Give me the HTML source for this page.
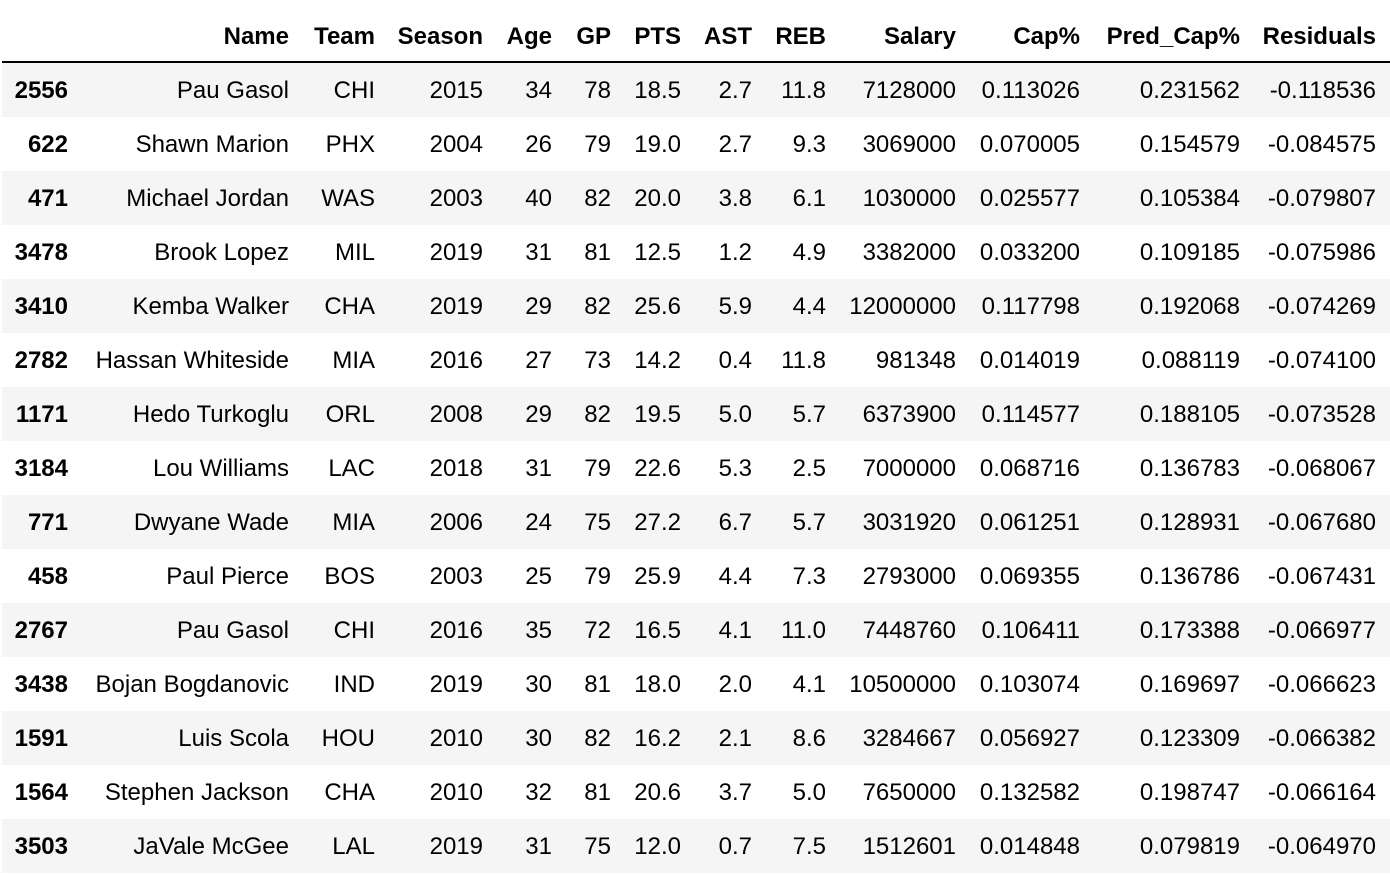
<!DOCTYPE html>
<html><head><meta charset="utf-8"><style>
body{margin:0;width:1390px;height:874px;background:#fff;overflow:hidden;font-family:"Liberation Sans",Arial,sans-serif;color:#000}
#t{position:relative;width:1390px;height:874px}
.c{position:absolute;font-size:24px;white-space:nowrap;text-align:right;line-height:54px}
.h{font-weight:bold}
.row{position:absolute;left:2px;width:1388px;height:54px}
</style></head><body>
<div id="t"></div>
<script>
const headers=["","Name","Team","Season","Age","GP","PTS","AST","REB","Salary","Cap%","Pred_Cap%","Residuals"];
const rows=[
["2556","Pau Gasol","CHI","2015","34","78","18.5","2.7","11.8","7128000","0.113026","0.231562","-0.118536"],
["622","Shawn Marion","PHX","2004","26","79","19.0","2.7","9.3","3069000","0.070005","0.154579","-0.084575"],
["471","Michael Jordan","WAS","2003","40","82","20.0","3.8","6.1","1030000","0.025577","0.105384","-0.079807"],
["3478","Brook Lopez","MIL","2019","31","81","12.5","1.2","4.9","3382000","0.033200","0.109185","-0.075986"],
["3410","Kemba Walker","CHA","2019","29","82","25.6","5.9","4.4","12000000","0.117798","0.192068","-0.074269"],
["2782","Hassan Whiteside","MIA","2016","27","73","14.2","0.4","11.8","981348","0.014019","0.088119","-0.074100"],
["1171","Hedo Turkoglu","ORL","2008","29","82","19.5","5.0","5.7","6373900","0.114577","0.188105","-0.073528"],
["3184","Lou Williams","LAC","2018","31","79","22.6","5.3","2.5","7000000","0.068716","0.136783","-0.068067"],
["771","Dwyane Wade","MIA","2006","24","75","27.2","6.7","5.7","3031920","0.061251","0.128931","-0.067680"],
["458","Paul Pierce","BOS","2003","25","79","25.9","4.4","7.3","2793000","0.069355","0.136786","-0.067431"],
["2767","Pau Gasol","CHI","2016","35","72","16.5","4.1","11.0","7448760","0.106411","0.173388","-0.066977"],
["3438","Bojan Bogdanovic","IND","2019","30","81","18.0","2.0","4.1","10500000","0.103074","0.169697","-0.066623"],
["1591","Luis Scola","HOU","2010","30","82","16.2","2.1","8.6","3284667","0.056927","0.123309","-0.066382"],
["1564","Stephen Jackson","CHA","2010","32","81","20.6","3.7","5.0","7650000","0.132582","0.198747","-0.066164"],
["3503","JaVale McGee","LAL","2019","31","75","12.0","0.7","7.5","1512601","0.014848","0.079819","-0.064970"]
];
const rights=[68,289,375,483,552,611,681,752,826,956,1080,1240,1376];
const t=document.getElementById('t');
function cell(txt,right,top,bold,name){
  const d=document.createElement('div');
  d.className='c'+(bold?' h':'');
  d.style.right=(1390-right)+'px';
  d.style.top=top+'px';
  d.textContent=txt;
  
  
  t.appendChild(d);
}
headers.forEach((h,i)=>{ if(h) cell(h,rights[i],10,true,'header-'+h.toLowerCase().replace(/[^a-z]/g,'-')); });
const line=document.createElement('div');
line.style.cssText='position:absolute;left:2px;top:61px;width:1388px;height:2px;background:#000';


t.appendChild(line);
rows.forEach((r,ri)=>{
  const top=63+ri*54;
  const rw=document.createElement('div');
  rw.className='row';
  rw.style.top=top+'px';
  rw.style.background=ri%2===0?'#f5f5f5':'#fff';
  
  
  t.appendChild(rw);
  r.forEach((v,ci)=>cell(v,rights[ci],top+1,ci===0,ci===0?'row-index':'cell-'+headers[ci].toLowerCase().replace(/[^a-z]/g,'-')));
});
</script>
</body></html>
